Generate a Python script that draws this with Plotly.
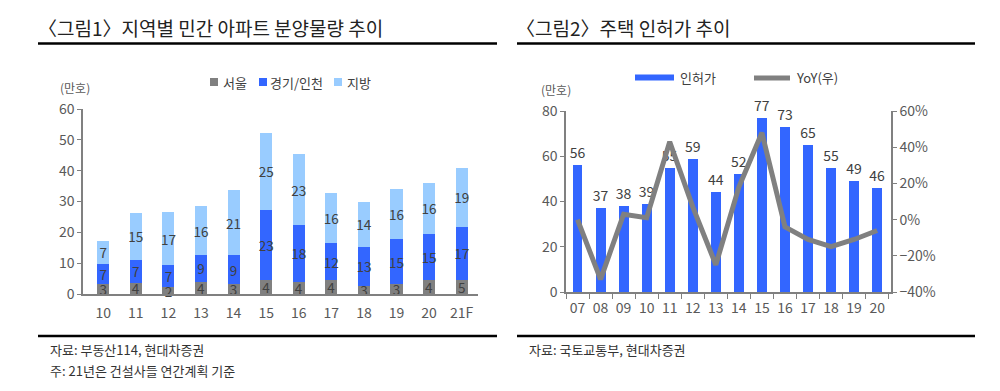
import plotly.graph_objects as go

# ---------- data: chart 1 ----------
years1 = ["10", "11", "12", "13", "14", "15", "16", "17", "18", "19", "20", "21F"]
seoul = [3.2, 3.6, 2.2, 4.0, 3.2, 4.4, 4.0, 4.4, 2.7, 3.2, 4.4, 4.6]
gyeonggi = [6.6, 7.4, 7.1, 8.6, 9.4, 22.9, 18.4, 12.0, 12.7, 14.6, 15.2, 17.1]
jibang = [7.4, 15.4, 17.2, 15.8, 21.1, 25.0, 22.9, 16.3, 14.4, 16.4, 16.4, 19.2]
series1_names = ["서울", "경기/인천", "지방"]

# ---------- data: chart 2 ----------
years2 = ["07", "08", "09", "10", "11", "12", "13", "14", "15", "16", "17", "18", "19", "20"]
permits = [56, 37, 38, 39, 55, 59, 44, 52, 77, 73, 65, 55, 49, 46]
yoy = [0, -33, 3, 1, 43, 7, -25, 18, 48, -4, -11, -15, -11, -6]
series2_names = ["인허가", "YoY(우)"]

FONT = "Noto Sans CJK KR"
C_SEOUL = "#808080"
C_GG = "#3366ff"
C_JB = "#99ccff"
C_LINE = "#808080"
TXT = "#404040"
AX = "#808080"
TICK = "#595959"

W, H = 1000, 391
OFF = 8  # page body margin offset


def px_x(x):
    return (x - OFF) / W


def px_y(y):
    return 1 - (y - OFF) / H


fig = go.Figure()

for vals, name, col in zip([seoul, gyeonggi, jibang], series1_names, [C_SEOUL, C_GG, C_JB]):
    fig.add_trace(go.Bar(
        x=years1, y=vals, name=name, marker=dict(color=col, line=dict(width=0)),
        width=0.37, xaxis="x", yaxis="y",
        texttemplate="%{y:.0f}", textposition="inside", insidetextanchor="middle",
        textangle=0, constraintext="none",
        textfont=dict(color=TXT, size=13.5, family=FONT), showlegend=False,
        cliponaxis=False,
    ))

fig.add_trace(go.Bar(
    x=years2, y=permits, name=series2_names[0], marker=dict(color=C_GG, line=dict(width=0)),
    width=0.43, xaxis="x2", yaxis="y2",
    texttemplate="%{y:.0f}", textposition="outside", textangle=0, constraintext="none",
    textfont=dict(color=TXT, size=14, family=FONT), showlegend=False, cliponaxis=False,
))
fig.add_trace(go.Scatter(
    x=years2, y=yoy, name=series2_names[1], mode="lines",
    line=dict(color=C_LINE, width=5), xaxis="x2", yaxis="y3", showlegend=False,
))

axis_common = dict(showgrid=False, zeroline=False, showline=True, linecolor=AX, linewidth=1.5,
                   automargin=False, tickangle=0,
                   tickfont=dict(size=14, color=TICK, family=FONT))

fig.update_layout(
    width=W, height=H,
    margin=dict(l=0, r=0, t=0, b=0, pad=0, autoexpand=False),
    paper_bgcolor="white", plot_bgcolor="white",
    font=dict(family=FONT, color=TXT),
    barmode="stack",
    showlegend=False,
    xaxis=dict(domain=[px_x(83), px_x(478)], anchor="y", type="category", range=[-0.62, 11.5],
               ticks="", ticklabelstandoff=5, **axis_common),
    yaxis=dict(domain=[px_y(294), px_y(109)], anchor="x", range=[0, 60], dtick=10,
               ticks="outside", ticklen=4, tickcolor=AX, **axis_common),
    xaxis2=dict(domain=[px_x(566), px_x(891)], anchor="y2", type="category", range=[-0.5, 13.6],
                ticks="outside", tickson="boundaries", ticklen=5, tickcolor=AX,
                ticklabelstandoff=2, **axis_common),
    yaxis2=dict(domain=[px_y(292), px_y(111)], anchor="x2", range=[0, 80], dtick=20,
                ticks="outside", ticklen=4, tickcolor=AX, **axis_common),
    yaxis3=dict(overlaying="y2", anchor="x2", side="right", range=[-40, 60], dtick=20,
                ticksuffix="%", ticks="outside", ticklen=4, tickcolor=AX, **axis_common),
)

shapes = []
annotations = []

# title rules and bottom rules
for x0, x1 in [(38, 497), (517, 975)]:
    shapes.append(dict(type="line", xref="paper", yref="paper", x0=px_x(x0), x1=px_x(x1),
                       y0=px_y(43.5), y1=px_y(43.5), line=dict(color="black", width=2.5)))
    shapes.append(dict(type="line", xref="paper", yref="paper", x0=px_x(x0), x1=px_x(x1),
                       y0=px_y(336), y1=px_y(336), line=dict(color="black", width=2.5)))


def text(x, y, s, size, color=TXT, xanchor="left"):
    annotations.append(dict(xref="paper", yref="paper", x=px_x(x), y=px_y(y), text=s,
                            showarrow=False, xanchor=xanchor, yanchor="middle",
                            font=dict(size=size, color=color, family=FONT)))


text(36, 28, "〈그림1〉지역별 민간 아파트 분양물량 추이", 19, "#222222")
text(514, 28, "〈그림2〉주택 인허가 추이", 19, "#222222")
text(58, 87, "(만호)", 12, TICK)
text(539, 89, "(만호)", 12, TICK)
text(48, 349, "자료: 부동산114, 현대차증권", 13, "#333333")
text(48, 370, "주: 21년은 건설사들 연간계획 기준", 13, "#333333")
text(527, 349, "자료: 국토교통부, 현대차증권", 13, "#333333")

# legend chart 1
for sx, tx, col, name in zip([210, 259, 334], [221, 268, 345], [C_SEOUL, C_GG, C_JB], series1_names):
    shapes.append(dict(type="rect", xref="paper", yref="paper", x0=px_x(sx), x1=px_x(sx + 8),
                       y0=px_y(86), y1=px_y(78), fillcolor=col, line=dict(width=0)))
    text(tx, 82, name, 13, TXT)

# legend chart 2
shapes.append(dict(type="rect", xref="paper", yref="paper", x0=px_x(635), x1=px_x(674),
                   y0=px_y(80.5), y1=px_y(74.5), fillcolor=C_GG, line=dict(width=0)))
text(678, 78, series2_names[0], 13, TXT)
shapes.append(dict(type="line", xref="paper", yref="paper", x0=px_x(754), x1=px_x(790),
                   y0=px_y(78), y1=px_y(78), line=dict(color=C_LINE, width=5)))
text(794, 78, series2_names[1], 13, TXT)

fig.update_layout(shapes=shapes, annotations=annotations)
fig.write_html("out.html")
